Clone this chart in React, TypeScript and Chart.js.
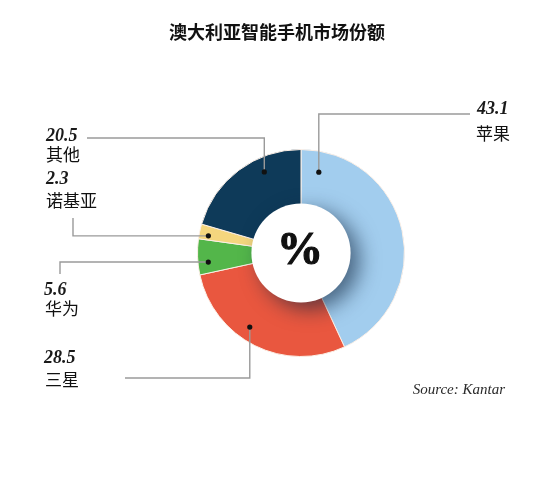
import React, { useEffect, useRef } from "react";
import { Chart, registerables } from "chart.js";

Chart.register(...registerables);

const title = "澳大利亚智能手机市场份额";
const categories = ["苹果", "三星", "华为", "诺基亚", "其他"];
const shares = [43.1, 28.5, 5.6, 2.3, 20.5];
const valueLabels = ["43.1", "28.5", "5.6", "2.3", "20.5"];
const sliceColors = ["#a2cdee", "#e9573f", "#53b64a", "#f4d67e", "#0e3a59"];
const sourceText = "Source: Kantar";

// leader layout (annotation positions, not data)
const anchorAngleFrac = [0.08, 0.58, 0.33, 0.31, 0.67];
const anchorRadiusFrac = [0.8, 0.87, 0.9, 0.91, 0.86];
type Route = { first: "v" | "h"; corner: number; end: number; vx: number; vy: number; nx: number; ny: number };
const routes: Route[] = [
  { first: "v", corner: 114, end: 470, vx: 477, vy: 114, nx: 476, ny: 140 },
  { first: "v", corner: 378, end: 125, vx: 44, vy: 363, nx: 45, ny: 386 },
  { first: "h", corner: 60, end: 274, vx: 44, vy: 295, nx: 45, ny: 315 },
  { first: "h", corner: 73, end: 218, vx: 46, vy: 184, nx: 46, ny: 207 },
  { first: "v", corner: 138, end: 87, vx: 46, vy: 141, nx: 46, ny: 161 },
];

const overlayPlugin = {
  id: "overlay",
  afterDatasetsDraw(chart: any) {
    const ctx = chart.ctx as CanvasRenderingContext2D;
    const meta = chart.getDatasetMeta(0);
    const arcs = meta.data as any[];
    if (!arcs.length) return;
    const cx = arcs[0].x;
    const cy = arcs[0].y;
    const inner = arcs[0].innerRadius;

    // center white disc with soft shadow
    ctx.save();
    ctx.beginPath();
    ctx.arc(cx, cy, inner + 2, 0, Math.PI * 2);
    ctx.shadowColor = "rgba(15,35,60,0.6)";
    ctx.shadowBlur = 20;
    ctx.shadowOffsetX = 9;
    ctx.shadowOffsetY = 7;
    ctx.fillStyle = "#ffffff";
    ctx.fill();
    ctx.restore();

    ctx.save();
    ctx.fillStyle = "#111";
    ctx.strokeStyle = "#111";
    ctx.lineWidth = 1.2;
    ctx.font = "bold 46px 'Liberation Serif', serif";
    ctx.textAlign = "center";
    ctx.textBaseline = "middle";
    ctx.fillText("%", cx - 1, cy - 1);
    ctx.strokeText("%", cx - 1, cy - 1);
    ctx.restore();

    // leaders and labels
    arcs.forEach((arc: any, i: number) => {
      const a = arc.startAngle + (arc.endAngle - arc.startAngle) * anchorAngleFrac[i];
      const r = arc.outerRadius * anchorRadiusFrac[i];
      const px = cx + Math.cos(a) * r;
      const py = cy + Math.sin(a) * r;
      const rt = routes[i];
      ctx.save();
      ctx.strokeStyle = "#9a9a9a";
      ctx.lineWidth = 1.4;
      ctx.beginPath();
      ctx.moveTo(px, py);
      if (rt.first === "v") {
        ctx.lineTo(px, rt.corner);
        ctx.lineTo(rt.end, rt.corner);
      } else {
        ctx.lineTo(rt.corner, py);
        ctx.lineTo(rt.corner, rt.end);
      }
      ctx.stroke();
      ctx.fillStyle = "#111";
      ctx.beginPath();
      ctx.arc(px, py, 2.6, 0, Math.PI * 2);
      ctx.fill();

      ctx.textAlign = "left";
      ctx.textBaseline = "alphabetic";
      ctx.fillStyle = "#1a1a1a";
      ctx.font = "italic bold 18px 'Liberation Serif', serif";
      ctx.fillText(valueLabels[i], rt.vx, rt.vy);
      ctx.fillStyle = "#111";
      ctx.font = "17px 'Noto Sans CJK SC', sans-serif";
      ctx.fillText(categories[i], rt.nx, rt.ny);
      ctx.restore();
    });

    // title
    ctx.save();
    ctx.fillStyle = "#111";
    ctx.font = "bold 18px 'Noto Sans CJK SC', sans-serif";
    ctx.textAlign = "center";
    ctx.textBaseline = "alphabetic";
    ctx.fillText(title, 277, 39);
    // source
    ctx.fillStyle = "#2a2a2a";
    ctx.font = "italic 15px 'Liberation Serif', serif";
    ctx.textAlign = "right";
    ctx.fillText(sourceText, 505, 394);
    ctx.restore();
  },
};

export default function App() {
  const ref = useRef<HTMLCanvasElement | null>(null);
  useEffect(() => {
    if (!ref.current) return;
    const chart = new Chart(ref.current, {
      type: "doughnut",
      data: {
        labels: categories,
        datasets: [
          {
            data: shares,
            backgroundColor: sliceColors,
            borderColor: "#fbefe6",
            borderWidth: 1,
          },
        ],
      },
      options: {
        responsive: false,
        animation: false,
        cutout: "46%",
        layout: { padding: { left: 197, right: 149, top: 149, bottom: 133 } },
        plugins: {
          legend: { display: false },
          tooltip: { enabled: false },
          title: { display: false },
        },
      },
      plugins: [overlayPlugin],
    });
    return () => chart.destroy();
  }, []);
  return (
    <div style={{ position: "fixed", left: 0, top: 0, width: 554, height: 490, background: "#fff" }}>
      <canvas ref={ref} width={554} height={490} style={{ display: "block", width: 554, height: 490 }} />
    </div>
  );
}
